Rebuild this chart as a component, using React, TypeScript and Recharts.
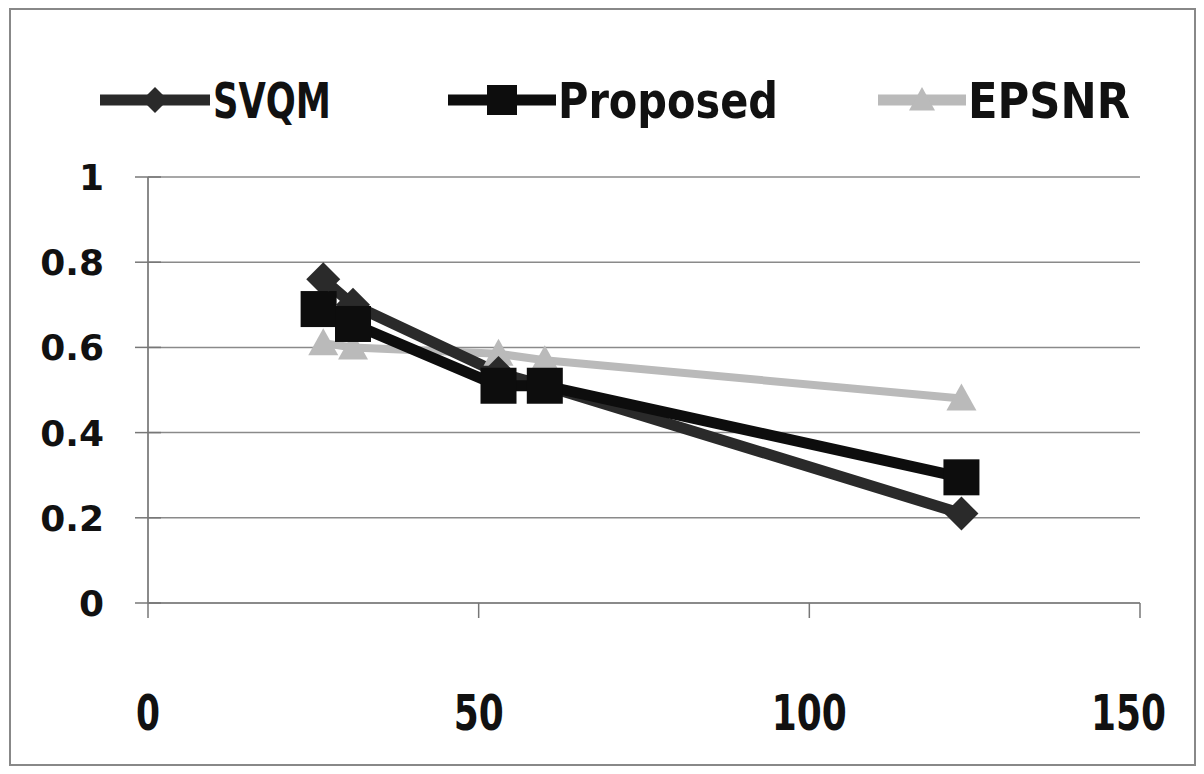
import React from 'react';
import { LineChart, Line, XAxis, YAxis, CartesianGrid } from 'recharts';

const seriesNames = ['SVQM', 'Proposed', 'EPSNR'];
const svqmX = [26.5, 31, 53, 60, 123];
const svqmY = [0.76, 0.7, 0.54, 0.51, 0.21];
const proposedX = [25.8, 31, 53, 60, 123];
const proposedY = [0.69, 0.655, 0.51, 0.51, 0.295];
const epsnrX = [26.5, 31, 53, 60, 123];
const epsnrY = [0.61, 0.6, 0.585, 0.57, 0.48];
const xTicks = [0, 50, 100, 150];
const yTicks = [0, 0.2, 0.4, 0.6, 0.8, 1];

const toRows = (xs: number[], ys: number[]) => xs.map((x, i) => ({ x, y: ys[i] }));
const svqmData = toRows(svqmX, svqmY);
const proposedData = toRows(proposedX, proposedY);
const epsnrData = toRows(epsnrX, epsnrY);

const SVQM_COLOR = '#2a2a2a';
const PROP_COLOR = '#0d0d0d';
const EPS_COLOR = '#bababa';
const NARROW = '"Liberation Sans Narrow", "DejaVu Sans Condensed", Arial, sans-serif';

const Diamond = ({ cx, cy, r, fill }: any) => (
  <polygon points={`${cx},${cy - r} ${cx + r},${cy} ${cx},${cy + r} ${cx - r},${cy}`} fill={fill} />
);
const Square = ({ cx, cy, r, fill }: any) => (
  <rect x={cx - r} y={cy - r} width={2 * r} height={2 * r} fill={fill} />
);
const Triangle = ({ cx, cy, r, fill }: any) => (
  <polygon points={`${cx},${cy - r} ${cx + r},${cy + r * 0.8} ${cx - r},${cy + r * 0.8}`} fill={fill} />
);

const YTick = ({ x, y, payload }: any) => (
  <g>
    <line x1={x - 13} x2={x + 13} y1={y} y2={y} stroke="#777" strokeWidth={1.5} />
    <text x={x - 44} y={y + 13} textAnchor="end" fontFamily='"DejaVu Sans", sans-serif' fontWeight="bold" fontSize={36} fill="#111">
      {payload.value}
    </text>
  </g>
);
const XTick = ({ x, y, payload }: any) => {
  const label = String(payload.value);
  const w = label.length === 1 ? 24 : label.length * 25;
  const cx = Math.min(x, 1166 - w / 2);
  return (
    <g>
      <line x1={x} x2={x} y1={y} y2={y + 15} stroke="#777" strokeWidth={1.5} />
      <text
        x={cx - w / 2}
        y={y + 127}
        fontFamily={NARROW}
        fontWeight="bold"
        fontSize={50}
        fill="#111"
        textLength={w}
        lengthAdjust="spacingAndGlyphs"
      >
        {label}
      </text>
    </g>
  );
};

const legendItems = [
  { name: seriesNames[0], color: SVQM_COLOR, Shape: Diamond, r: 13, x1: 100, x2: 210, tx: 213, tw: 118 },
  { name: seriesNames[1], color: PROP_COLOR, Shape: Square, r: 15, x1: 448, x2: 556, tx: 558, tw: 220 },
  { name: seriesNames[2], color: EPS_COLOR, Shape: Triangle, r: 13, x1: 878, x2: 966, tx: 968, tw: 162 },
];

export default function App() {
  return (
    <div style={{ position: 'absolute', left: 0, top: 0, width: 1204, height: 774, background: '#fff' }}>
      <LineChart width={1204} height={774} margin={{ top: 177, right: 64, bottom: 0, left: 0 }}>
        <CartesianGrid vertical={false} stroke="#8a8a8a" strokeWidth={1.5} />
        <XAxis
          type="number"
          dataKey="x"
          domain={[0, 150]}
          ticks={xTicks}
          height={171}
          tickSize={0}
          tickMargin={0}
          tick={<XTick />}
          stroke="#8a8a8a"
          strokeWidth={2}
          allowDuplicatedCategory={false}
        />
        <YAxis
          type="number"
          dataKey="y"
          domain={[0, 1]}
          ticks={yTicks}
          width={148}
          tickSize={0}
          tickMargin={0}
          tick={<YTick />}
          stroke="#8a8a8a"
          strokeWidth={2}
        />
        <Line
          data={epsnrData}
          dataKey="y"
          name={seriesNames[2]}
          stroke={EPS_COLOR}
          strokeWidth={8}
          isAnimationActive={false}
          dot={(p: any) => <Triangle key={`e${p.index}`} cx={p.cx} cy={p.cy} r={15} fill={EPS_COLOR} />}
        />
        <Line
          data={svqmData}
          dataKey="y"
          name={seriesNames[0]}
          stroke={SVQM_COLOR}
          strokeWidth={11}
          isAnimationActive={false}
          dot={(p: any) => <Diamond key={`s${p.index}`} cx={p.cx} cy={p.cy} r={17} fill={SVQM_COLOR} />}
        />
        <Line
          data={proposedData}
          dataKey="y"
          name={seriesNames[1]}
          stroke={PROP_COLOR}
          strokeWidth={11}
          isAnimationActive={false}
          dot={(p: any) => <Square key={`p${p.index}`} cx={p.cx} cy={p.cy} r={18} fill={PROP_COLOR} />}
        />
      </LineChart>
      <svg width={1204} height={774} style={{ position: 'absolute', left: 0, top: 0, pointerEvents: 'none' }}>
        <rect x={10} y={9} width={1185} height={756} fill="none" stroke="#888" strokeWidth={2} />
        {legendItems.map((it) => (
          <g key={it.name}>
            <line x1={it.x1} x2={it.x2} y1={100} y2={100} stroke={it.color} strokeWidth={11} />
            <it.Shape cx={(it.x1 + it.x2) / 2} cy={100} r={it.r} fill={it.color} />
            <text
              x={it.tx}
              y={118}
              fontFamily={NARROW}
              fontWeight="bold"
              fontSize={50}
              fill="#111"
              textLength={it.tw}
              lengthAdjust="spacingAndGlyphs"
            >
              {it.name}
            </text>
          </g>
        ))}
      </svg>
    </div>
  );
}
